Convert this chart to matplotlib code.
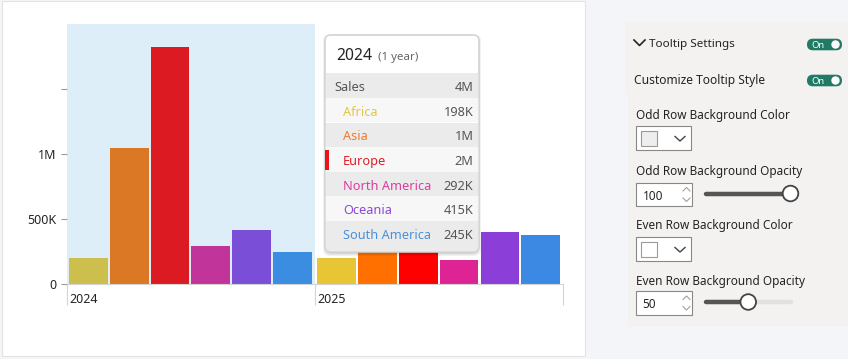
import numpy as np
import matplotlib
matplotlib.use("Agg")
from matplotlib import pyplot as plt
from matplotlib.patches import Rectangle, FancyBboxPatch, Circle

plt.rcParams['font.family'] = ['Noto Sans', 'DejaVu Sans']

# datos del grafico
years = ["2024", "2025"]
regions = ["Africa", "Asia", "Europe", "North America", "Oceania", "South America"]
sales_2024 = [198_000, 1_046_000, 1_823_000, 292_000, 415_000, 245_000]
sales_2025 = [200_000, 900_000, 1_500_000, 185_000, 400_000, 377_000]
colors_2024 = ["#CDBF4E", "#DB7825", "#DB1A22", "#C13499", "#7A4ED6", "#3A8DE0"]
colors_2025 = ["#E8C534", "#FF7000", "#FF0000", "#DE2394", "#8B3ED8", "#3C89E3"]
label_colors = ["#E9C53C", "#EE7B30", "#E01E25", "#DB3D9E", "#8C47D6", "#4A8FDA"]
y_ticks = [0, 500_000, 1_000_000, 1_500_000]
y_tick_labels = ["0", "500K", "1M", ""]


def fmt(v):
    return f"{round(v / 1e6)}M" if v >= 1e6 else f"{round(v / 1e3)}K"


W, H = 848, 359
fig = plt.figure(figsize=(W / 100, H / 100), dpi=100)
fig.patch.set_facecolor("#F4F5F9")

# fondo en pixeles
bg = fig.add_axes([0, 0, 1, 1], zorder=0)
bg.set_xlim(0, W)
bg.set_ylim(H, 0)
bg.axis("off")
bg.add_patch(Rectangle((2, 1), 583, 355, fc="white", ec="#E3E3E3", lw=0.8))

# grafico de barras
ax = fig.add_axes([66.5 / W, (H - 284) / H, 496.5 / W, 260 / H], zorder=1)
ax.patch.set_alpha(0)
ax.set_xlim(0, 2)
ax.set_ylim(0, 2_000_000)
ax.axvspan(0, 1, color="#DDEEF8", zorder=0, lw=0)
pitch, width, offset = 0.1645, 0.156, 0.088
for g, (vals, cols) in enumerate([(sales_2024, colors_2024), (sales_2025, colors_2025)]):
    xs = g + offset + pitch * np.arange(len(vals))
    ax.bar(xs, vals, width, color=cols, zorder=2)
ax.set_yticks(y_ticks, y_tick_labels)
ax.tick_params(axis="y", length=4, color="#9A9A9A", labelsize=9, labelcolor="#252423", pad=3)
ax.set_xticks([0, 1, 2])
ax.set_xticklabels([])
ax.tick_params(axis="x", length=15, color="#D4D4D4", width=0.8)
for s in ["top", "right", "left"]:
    ax.spines[s].set_visible(False)
ax.spines["bottom"].set_color("#D4D4D4")
for i, y in enumerate(years):
    ax.annotate(y, xy=(i, 0), xycoords=("data", "axes fraction"), xytext=(2, -11),
                textcoords="offset points", va="center", ha="left", fontsize=9, color="#252423")

# tooltip
ov = fig.add_axes([0, 0, 1, 1], zorder=3)
ov.set_xlim(0, W)
ov.set_ylim(H, 0)
ov.axis("off")
ov.patch.set_alpha(0)
tx, ty, tw, th = 325, 35, 154, 217
for k in range(4):
    ov.add_patch(FancyBboxPatch((tx - k + 1, ty - k + 2), tw + 2 * k - 2, th + 2 * k - 1,
                                boxstyle="round,pad=0,rounding_size=7", fc="black", ec="none",
                                alpha=0.05))
tip = FancyBboxPatch((tx, ty), tw, th, boxstyle="round,pad=0,rounding_size=6",
                     fc="white", ec="#D2D2D2", lw=0.8)
ov.add_patch(tip)
row0, rh = 73.3, 24.6
rows = ["Sales"] + regions
vals = [sum(sales_2024)] + sales_2024
for k, (name, v) in enumerate(zip(rows, vals)):
    y0 = row0 + rh * k
    h = rh if k < len(rows) - 1 else ty + th - y0
    band = Rectangle((tx, y0), tw, h, fc="#EBEBEB" if k % 2 == 0 else "#F7F7F7", ec="none")
    ov.add_patch(band)
    band.set_clip_path(tip)
    yc = y0 + rh / 2 + 2
    if k == 0:
        ov.text(334, yc, name, fontsize=9.2, color="#555555", va="center")
    else:
        ov.text(343, yc, name, fontsize=9.2, color=label_colors[k - 1], va="center")
    ov.text(473.5, yc, fmt(v), fontsize=9.2, color="#555555", va="center", ha="right")
ov.add_patch(FancyBboxPatch((tx, ty), tw, th, boxstyle="round,pad=0,rounding_size=6",
                            fc="none", ec="#D2D2D2", lw=0.8))
eu = regions.index("Europe") + 1
ov.add_patch(Rectangle((tx, row0 + rh * eu + 3), 4, rh - 5, fc="#E8141C", ec="none"))
ov.text(336, 56.5, years[0], fontsize=11.3, color="#252423", va="center")
ov.text(378, 57.5, "(1 year)", fontsize=8.3, color="#666666", va="center")

# panel de configuracion
bg.add_patch(Rectangle((625, 22), 223, 72, fc="#F3F2F1", ec="none"))
bg.add_patch(Rectangle((628, 93), 220, 234, fc="#F3F2F1", ec="none"))
txt = "#252423"
bg.plot([634, 639.5, 645], [40, 45.5, 40], color=txt, lw=1.2)
bg.text(649, 44, "Tooltip Settings", fontsize=8.4, fontweight="bold", color=txt, va="center")
bg.text(634, 80.5, "Customize Tooltip Style", fontsize=8.6, color=txt, va="center")
for yc in [44.5, 80.5]:
    bg.add_patch(FancyBboxPatch((807, yc - 5.8), 35, 11.6, boxstyle="round,pad=0,rounding_size=5.8",
                                fc="#217A63", ec="none"))
    bg.text(818, yc + 0.5, "On", fontsize=6.8, fontweight="bold", color="white", va="center", ha="center")
    bg.add_patch(Circle((835.5, yc), 4.2, fc="white", ec="none"))

labels = ["Odd Row Background Color", "Odd Row Background Opacity",
          "Even Row Background Color", "Even Row Background Opacity"]
label_y = [115.5, 171.5, 226, 281]
for lab, yy in zip(labels, label_y):
    bg.text(636, yy, lab, fontsize=8.5, color=txt, va="center")

# cajas de color
for y0, sw in [(126, "#EEEEEE"), (237, "white")]:
    bg.add_patch(Rectangle((636, y0), 55, 24, fc="white", ec="#8A8886", lw=0.8))
    bg.add_patch(Rectangle((641, y0 + 5), 15.5, 14.5, fc=sw, ec="#9A9A9A", lw=0.8))
    bg.plot([675, 680, 685], [y0 + 10.5, y0 + 15, y0 + 10.5], color="#444444", lw=1)

# cajas numericas y deslizadores
opac = [100, 50]
for y0, v in zip([182.5, 291], opac):
    yc = y0 + 12
    bg.add_patch(Rectangle((636, y0), 55.5, 23.5, fc="white", ec="#8A8886", lw=0.8))
    bg.text(642.5, yc + 1.5, str(v), fontsize=8.5, color=txt, va="center")
    bg.plot([683, 686.5, 690], [yc - 3.5, yc - 7, yc - 3.5], color="#A0A0A0", lw=0.8)
    bg.plot([683, 686.5, 690], [yc + 3.5, yc + 7, yc + 3.5], color="#A0A0A0", lw=0.8)
    kx = 706 + 84.5 * v / 100
    bg.plot([706, 790.5], [yc - 1, yc - 1], color="#E3E1DF", lw=3.2, solid_capstyle="round")
    bg.plot([706, kx], [yc - 1, yc - 1], color="#555555", lw=3.2, solid_capstyle="round")
    bg.add_patch(Circle((kx, yc - 1), 7.8, fc="white", ec="#444444", lw=1.3, zorder=5))

fig.savefig("out.png", dpi=100, facecolor=fig.get_facecolor())
